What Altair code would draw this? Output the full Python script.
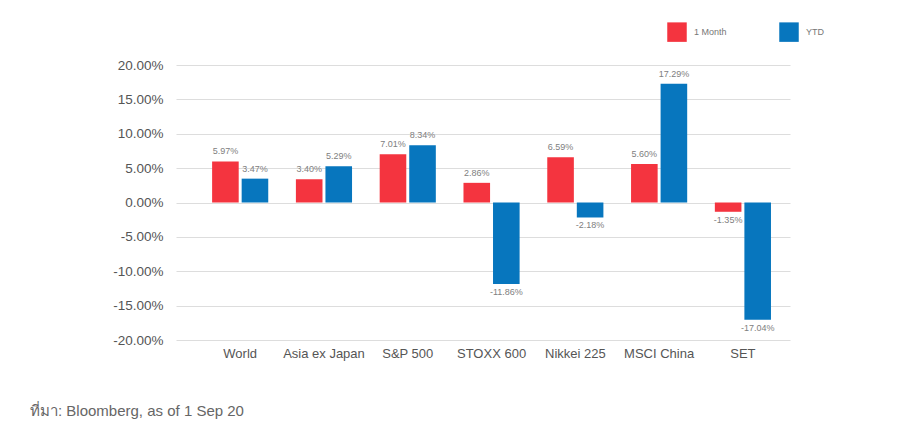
import altair as alt
import pandas as pd

categories = ["World", "Asia ex Japan", "S&P 500", "STOXX 600", "Nikkei 225", "MSCI China", "SET"]
series = ["1 Month", "YTD"]
month = [5.97, 3.40, 7.01, 2.86, 6.59, 5.60, -1.35]
ytd = [3.47, 5.29, 8.34, -11.86, -2.18, 17.29, -17.04]
y_ticks = [-20, -15, -10, -5, 0, 5, 10, 15, 20]
colors = ["#F4343F", "#0776BE"]
footnote = "ที่มา: Bloomberg, as of 1 Sep 20"

rows = []
for c, m, y in zip(categories, month, ytd):
    rows.append({"cat": c, "series": series[0], "value": m})
    rows.append({"cat": c, "series": series[1], "value": y})
df = pd.DataFrame(rows)

FONT = "Liberation Sans"
FMT = "(datum.value < 0 ? '-' : '') + format(abs(datum.value), '.2f') + '%'"

x = alt.X(
    "cat:N", sort=categories,
    scale=alt.Scale(paddingInner=0.33, paddingOuter=0.329, align=0.655),
    axis=alt.Axis(title=None, labelAngle=0, ticks=False, domain=False, grid=False,
                  labelFontSize=13, labelColor="#555", labelPadding=7, labelFont=FONT),
)
xo = alt.XOffset("series:N", sort=series, scale=alt.Scale(paddingInner=0.1))
y = alt.Y(
    "value:Q",
    scale=alt.Scale(domain=[-20, 20], nice=False),
    axis=alt.Axis(title=None, values=y_ticks, labelExpr=FMT,
                  ticks=False, domain=False, gridColor="#dddddd", gridWidth=1,
                  labelFontSize=13.5, labelColor="#555", labelPadding=13, labelFont=FONT),
)
color = alt.Color(
    "series:N", sort=series,
    scale=alt.Scale(domain=series, range=colors),
    legend=alt.Legend(title=None, orient="none", legendX=491, legendY=-43, direction="horizontal",
                      symbolType="square", symbolSize=380, symbolStrokeWidth=0,
                      labelFontSize=9, labelColor="#777", labelFont=FONT,
                      columnPadding=52, labelOffset=7),
)

base = alt.Chart(df).transform_calculate(label=FMT)

bars = base.mark_bar().encode(x=x, xOffset=xo, y=y, color=color)
pos = base.transform_filter("datum.value >= 0").mark_text(
    baseline="bottom", dy=-5, fontSize=9, color="#808080", font=FONT
).encode(x=x, xOffset=xo, y=y, text="label:N")
neg = base.transform_filter("datum.value < 0").mark_text(
    baseline="top", dy=4, fontSize=9, color="#808080", font=FONT
).encode(x=x, xOffset=xo, y=y, text="label:N")

chart = alt.layer(bars, pos, neg).properties(
    width=614, height=275,
    autosize=alt.AutoSizeParams(type="none"),
    padding={"left": 168, "top": 57, "right": 106, "bottom": 96},
    title=alt.TitleParams(footnote, orient="bottom", anchor="start", frame="group",
                          dx=-146, offset=44, fontSize=15, color="#666",
                          font=FONT, fontWeight="normal"),
).configure_view(stroke=None)

chart.save("out.html", embed_options={"renderer": "svg", "actions": False})
